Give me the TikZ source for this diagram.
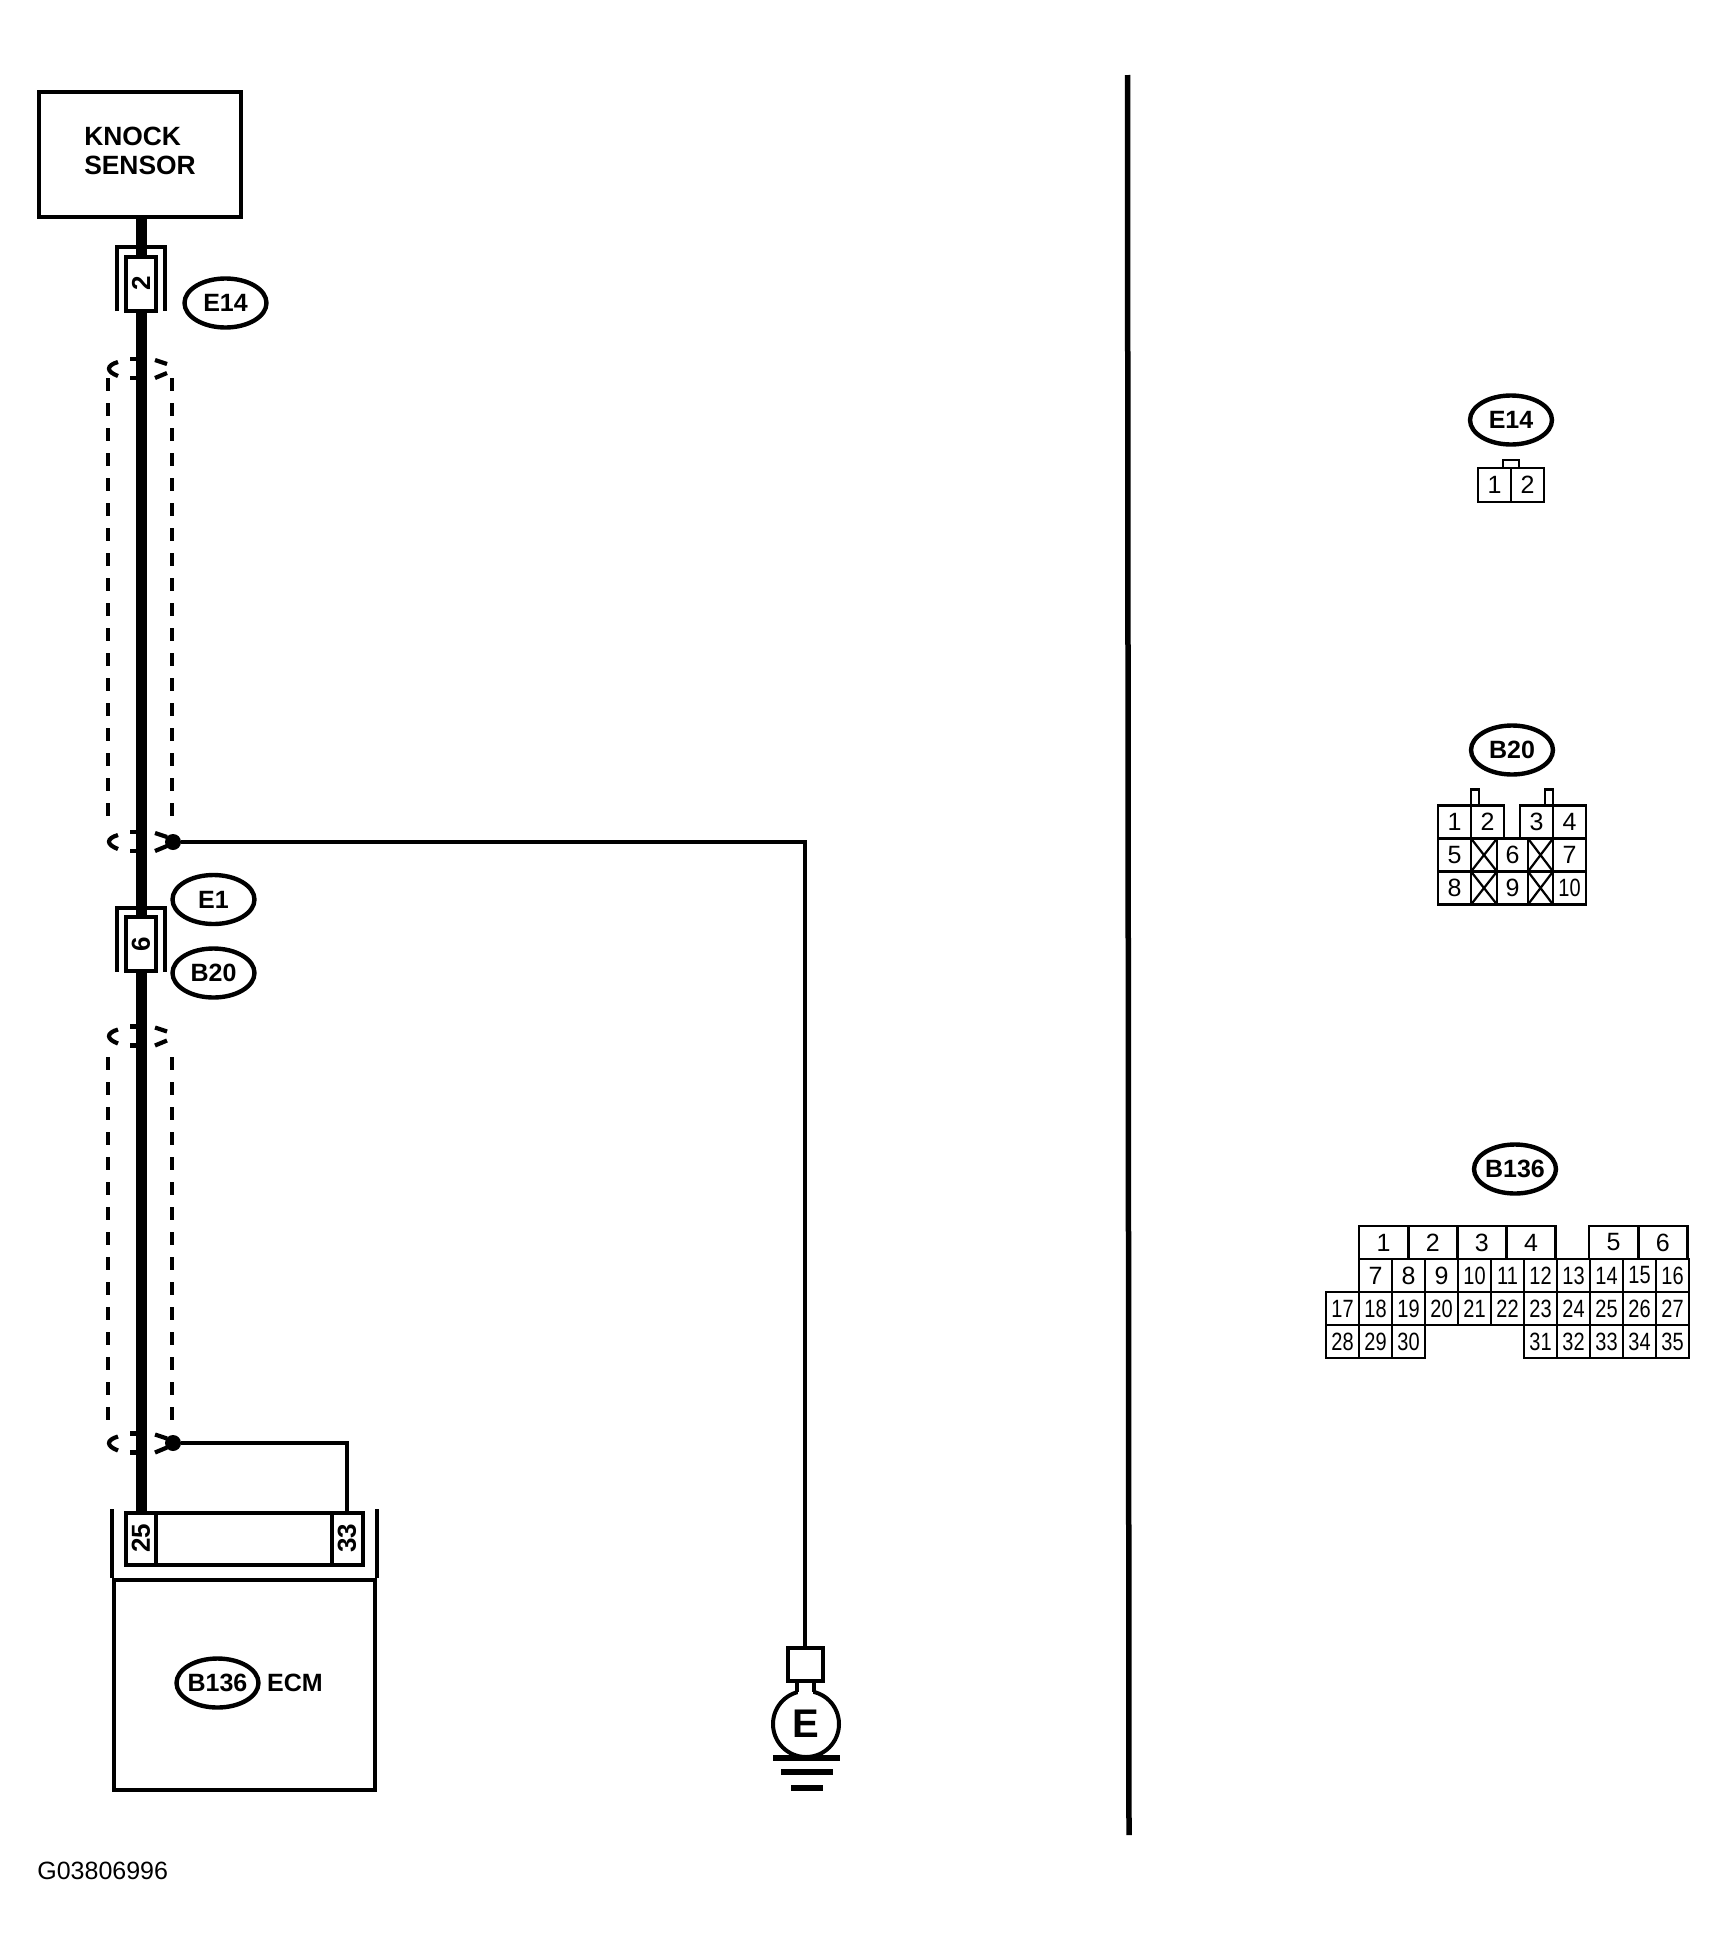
\documentclass[tikz,border=0pt]{standalone}
\usepackage{fontspec}
\setmainfont{Liberation Sans}
\newfontfamily\narrowfont[FakeStretch=0.8]{Liberation Sans}
\usepackage{tikz}
\usetikzlibrary{shapes.geometric, positioning}

\begin{document}
\begin{tikzpicture}[
    x=0.5pt, y=-0.5pt,
    node distance=0pt,
    titlebox/.style={rectangle, draw, line width=2pt, inner sep=0pt, align=left, text depth=3.5pt, font=\bfseries\fontsize{13.2}{14.5}\selectfont},
    tag/.style={ellipse, draw, line width=2.2pt, minimum width=41pt, minimum height=24.5pt, inner xsep=-1pt, inner ysep=0pt, font=\bfseries\fontsize{12.5}{14}\selectfont},
    plain/.style={inner sep=0pt, font=\bfseries\fontsize{12.5}{14}\selectfont},
    pinbox/.style={rectangle, draw, line width=2pt, inner sep=0pt, outer sep=0pt, minimum width=15pt, minimum height=27pt, font=\bfseries\fontsize{13}{14}\selectfont},
    cell/.style={rectangle, draw, line width=1.4pt, inner sep=0pt, outer sep=0pt, minimum width=16.5pt, minimum height=16.5pt, font=\fontsize{12.5}{14}\selectfont},
    cellnum/.style={cell, font=\narrowfont\fontsize{12.5}{14}\selectfont},
    cellwide/.style={cell, minimum width=24.6pt},
    tab/.style={rectangle, draw, line width=1.3pt, inner sep=0pt, outer sep=0pt},
    blocked/.style={cell, path picture={\draw[line width=1.1pt] (path picture bounding box.north west) -- (path picture bounding box.south east) (path picture bounding box.north east) -- (path picture bounding box.south west);}},
    wire/.style={line width=5.5pt},
    thinwire/.style={line width=2.1pt},
    shield/.style={line width=2pt, dash pattern=on 6.5pt off 6pt},
    housing/.style={line width=2pt},
    dot/.style={circle, fill, inner sep=0pt, minimum size=8pt},
    shieldcap/.pic={
        \draw[line width=2.1pt] (-22,-6.5) .. controls (-34,-3) and (-34,3) .. (-22,7.5);
        \draw[line width=2.1pt] (15,-8.5) -- (27,-4.5);
        \draw[line width=2.1pt] (15,9.5) -- (27,4.5);
        \draw[line width=2.4pt] (-10,-9.5) -- (-3,-9.5);
        \draw[line width=2.4pt] (-10,9.5) -- (-3,9.5);
    },
    connhood/.pic={
        \draw[housing] (-24.5,27.5) |- (24,-36.5) -- (24,27.5);
    }
]
    \useasboundingbox (0,0) rectangle (1726,1954);

    \node[titlebox, minimum width=101pt, minimum height=62.5pt] (sensor) at (140,154.5) {KNOCK\\SENSOR};
    \node[pinbox] (e14pin) at (141,283.7) {\rotatebox{90}{2}};
    \node[pinbox] (e1pin) at (141,944) {\rotatebox{90}{6}};
    \node[tag] (e14tag) at (225.5,303) {E14};
    \node[tag] (e1tag) at (213.5,899.5) {E1};
    \node[tag] (b20tag) at (213.5,973) {B20};

    \pic at (e14pin) {connhood};
    \pic at (e1pin) {connhood};

    \draw[shield] (108,378) -- (108,817);
    \draw[shield] (171.5,378) -- (171.5,817);
    \draw[shield] (108,1057) -- (108,1421);
    \draw[shield] (171.5,1057) -- (171.5,1421);
    \pic at (140,368.5) {shieldcap};
    \pic at (140,841.5) {shieldcap};
    \pic at (140,1036) {shieldcap};
    \pic at (140,1443) {shieldcap};

    \node[rectangle, draw, line width=2pt, inner sep=0pt, minimum width=130.5pt, minimum height=105pt] (ecm) at (244.5,1685) {};
    \node[pinbox, minimum height=26pt] (pin25) at (141,1538.5) {\rotatebox{90}{25}};
    \node[pinbox, minimum height=26pt, minimum width=87.75pt, right=of pin25] (pinmid) {};
    \node[pinbox, minimum height=26pt, minimum width=15.5pt, right=of pinmid] (pin33) {\rotatebox{90}{33}};
    \node[tag] (b136tag) at (217.5,1683) {B136};
    \node[plain, right=3pt of b136tag] (ecmtext) {ECM};
    \draw[line width=2pt] (ecm.north west) -- ++(0,-69);
    \draw[line width=2pt] (ecm.north east) -- ++(0,-69);

    \node[dot] (dot1) at (173,842) {};
    \node[dot] (dot2) at (173,1443) {};
    \node[rectangle, draw, line width=2pt, inner sep=0pt, minimum width=17.5pt, minimum height=16.5pt] (gbox) at (805,1664.5) {};
    \node[circle, draw, line width=2pt, inner sep=0pt, minimum size=33pt, font=\bfseries\fontsize{20}{22}\selectfont] (gnd) at (806,1724) {E};
    \fill[white] ([xshift=-3.75pt, yshift=-1pt]gbox.south) rectangle ++(15.5,12);
    \draw[line width=2pt] ([xshift=-4.25pt]gbox.south) -- ++(0,9);
    \draw[line width=2pt] ([xshift=4.5pt]gbox.south) -- ++(0,9);
    \draw[line width=2.75pt] (773,1758) -- (840,1758);
    \draw[line width=2.75pt] (781,1772) -- (833,1772);
    \draw[line width=2.75pt] (791,1788) -- (823,1788);

    \draw[wire] (sensor.south -| e14pin) -- (e14pin.north);
    \draw[wire] (e14pin.south) -- (e1pin.north);
    \draw[wire] (e1pin.south) -- (pin25.north);
    \draw[thinwire] (dot1) -| (gbox.north);
    \draw[thinwire] (dot2) -| (pin33.north);

    \draw[line width=2.75pt] (1127.5,75) -- (1129,1835);

    \node[plain, font=\fontsize{12.5}{14}\selectfont, anchor=west] (partno) at (37,1871) {G03806996};

    \node[tag] (e14key) at (1511,420) {E14};
    \node[cell, minimum height=17pt] (e14p1) at (1494.5,485) {1};
    \node[cell, minimum height=17pt, right=of e14p1] (e14p2) {2};
    \node[tab, minimum width=8pt, minimum height=4pt, above=of e14p1.north east] (e14lug) {};

    \node[tag] (b20key) at (1512,750) {B20};
    \node[cell] (b20p1) at (1454.5,822) {1};
    \node[cell, right=of b20p1] (b20p2) {2};
    \node[cell] (b20p3) at (1536.5,822) {3};
    \node[cell, right=of b20p3] (b20p4) {4};
    \node[tab, minimum width=4pt, minimum height=8pt, above right=0pt and 0pt of b20p1.north east] (b20lug1) {};
    \node[tab, minimum width=4pt, minimum height=8pt, above left=0pt and 0pt of b20p3.north east] (b20lug2) {};
    \node[cell] (b20p5) at (1454.5,855) {5};
    \node[blocked, minimum width=13pt, right=of b20p5] (b20x1) {};
    \node[cell, minimum width=15.5pt, right=of b20x1] (b20p6) {6};
    \node[blocked, minimum width=12.5pt, right=of b20p6] (b20x2) {};
    \node[cell, right=of b20x2] (b20p7) {7};
    \node[cell, below=of b20p5] (b20p8) {8};
    \node[blocked, minimum width=13pt, right=of b20p8] (b20x3) {};
    \node[cell, minimum width=15.5pt, right=of b20x3] (b20p9) {9};
    \node[blocked, minimum width=12.5pt, right=of b20p9] (b20x4) {};
    \node[cellnum, right=of b20x4] (b20p10) {10};

    \node[tag] (b136key) at (1515,1169) {B136};
    \node[cellwide] (b136p1) at (1383.5,1242.5) {1};
    \node[cellwide, right=of b136p1] (b136p2) {2};
    \node[cellwide, right=of b136p2] (b136p3) {3};
    \node[cellwide, right=of b136p3] (b136p4) {4};
    \node[cellwide] (b136p5) at (1613.5,1242.5) {5};
    \node[cellwide, right=of b136p5] (b136p6) {6};
    \node[cell] (b136p7) at (1375.5,1275.5) {7};
    \node[cell, right=of b136p7] (b136p8) {8};
    \node[cell, right=of b136p8] (b136p9) {9};
    \node[cellnum, right=of b136p9] (b136p10) {10};
    \node[cellnum, right=of b136p10] (b136p11) {11};
    \node[cellnum, right=of b136p11] (b136p12) {12};
    \node[cellnum, right=of b136p12] (b136p13) {13};
    \node[cellnum, right=of b136p13] (b136p14) {14};
    \node[cellnum, right=of b136p14] (b136p15) {15};
    \node[cellnum, right=of b136p15] (b136p16) {16};
    \node[cellnum] (b136p17) at (1342.5,1308.5) {17};
    \node[cellnum, right=of b136p17] (b136p18) {18};
    \node[cellnum, right=of b136p18] (b136p19) {19};
    \node[cellnum, right=of b136p19] (b136p20) {20};
    \node[cellnum, right=of b136p20] (b136p21) {21};
    \node[cellnum, right=of b136p21] (b136p22) {22};
    \node[cellnum, right=of b136p22] (b136p23) {23};
    \node[cellnum, right=of b136p23] (b136p24) {24};
    \node[cellnum, right=of b136p24] (b136p25) {25};
    \node[cellnum, right=of b136p25] (b136p26) {26};
    \node[cellnum, right=of b136p26] (b136p27) {27};
    \node[cellnum, below=of b136p17] (b136p28) {28};
    \node[cellnum, right=of b136p28] (b136p29) {29};
    \node[cellnum, right=of b136p29] (b136p30) {30};
    \node[cellnum, below=of b136p23] (b136p31) {31};
    \node[cellnum, right=of b136p31] (b136p32) {32};
    \node[cellnum, right=of b136p32] (b136p33) {33};
    \node[cellnum, right=of b136p33] (b136p34) {34};
    \node[cellnum, right=of b136p34] (b136p35) {35};
\end{tikzpicture}
\end{document}
